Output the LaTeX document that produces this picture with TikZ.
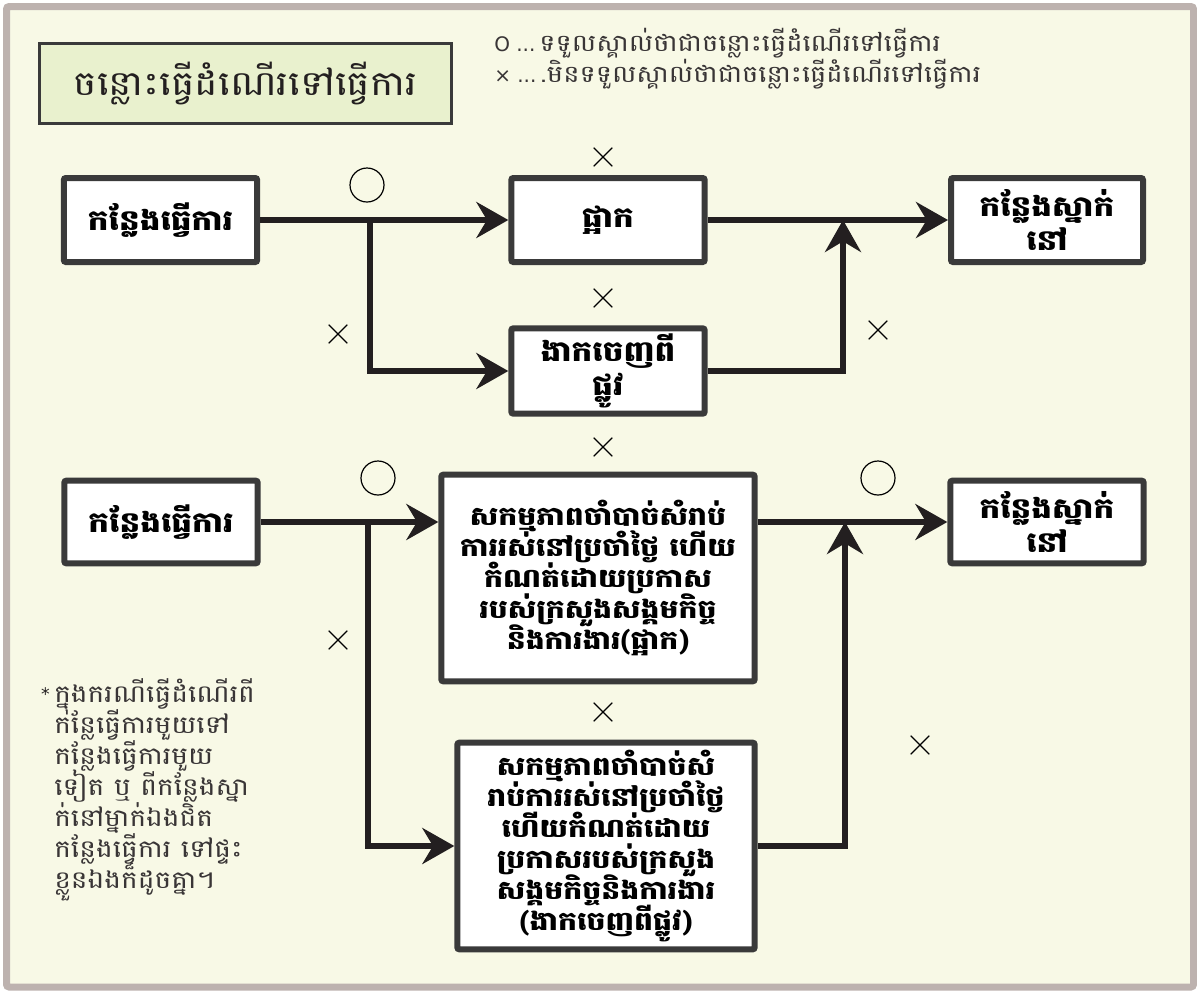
\documentclass[tikz,border=0pt]{standalone}
\usepackage{fontspec}
\usetikzlibrary{arrows.meta,shapes.misc,calc}
\newfontfamily\khmer[Script=Khmer,FakeStretch=1.15]{Battambang}
\newfontfamily\symf{DejaVu Sans}
\definecolor{bg}{HTML}{F8F9E6}
\definecolor{framec}{HTML}{BDB2AF}
\definecolor{titlefill}{HTML}{E9F1CE}
\definecolor{boxline}{HTML}{3A3A3A}
\definecolor{ink}{HTML}{231F20}
\newcommand\tightlines{\lineskiplimit=-100pt\lineskip=0pt\relax}
\begin{document}
\begin{tikzpicture}[x=0.75pt,y=-0.75pt,
  box/.style={draw=boxline, fill=white, line width=4.5pt, rounded corners=1.5pt, align=center, inner sep=0pt,
    font=\khmer\bfseries\fontsize{21.3}{25}\selectfont\tightlines},
  bigbox/.style={box, font=\khmer\bfseries\fontsize{19.5}{23.25}\selectfont\tightlines},
  conn/.style={draw=ink, line width=4.9pt, -{Stealth[length=24pt,width=27pt,inset=8pt]}},
  omark/.style={circle, draw=black, line width=0.9pt, minimum size=25.5pt, inner sep=0pt},
  xmark/.style={cross out, draw=black, line width=0.9pt, minimum size=13pt, inner sep=0pt},
  legend/.style={anchor=west, inner sep=0pt, font=\khmer\fontsize{17.8}{22}\selectfont, text=ink!90},
]
% page and frame
\path[use as bounding box] (0,0) rectangle (1197,990);
\fill[white] (0,0) rectangle (1197,990);
\draw[framec, fill=bg, line width=5.25pt, rounded corners=2pt] (6.5,6.5) rectangle (1193.5,987);

% title
\node[draw=boxline, fill=titlefill, line width=2.4pt, minimum width=309pt, minimum height=60pt, inner sep=0pt,
  font=\khmer\fontsize{25.6}{30}\selectfont, text=ink] (title) at (245.5,83.5) {ចន្លោះធ្វើដំណើរទៅធ្វើការ};

% legend
\node[legend] (leg1) at (494,43) {{\symf\fontsize{15}{18}\selectfont O ...}\,ទទួលស្គាល់ថាជាចន្លោះធ្វើដំណើរទៅធ្វើការ};
\node[legend] (leg2) at (494,74) {{\symf\fontsize{15}{18}\selectfont × ...}\,.មិនទទួលស្គាល់ថាជាចន្លោះធ្វើដំណើរទៅធ្វើការ};

% row 1
\node[box, minimum width=145pt, minimum height=63pt] (a1) at (160.5,220) {កន្លែងធ្វើការ};
\node[box, minimum width=145pt, minimum height=63pt] (b1) at (608,220) {ផ្អាក};
\node[box, minimum width=145pt, minimum height=64pt] (c1) at (608,371) {ងាកចេញពី\\ផ្លូវ};
\node[box, minimum width=144pt, minimum height=63pt] (d1) at (1047,220) {កន្លែងស្នាក់\\នៅ};

\coordinate (j1) at (370,220);
\coordinate (k1) at (843,220);
\draw[conn] (a1.east) -- (b1.west);
\draw[conn] (j1) |- (c1.west);
\draw[conn] (b1.east) -- (d1.west);
\draw[conn] (c1.east) -| (k1);

% row 2
\node[box, minimum width=145pt, minimum height=62pt] (a2) at (161,522) {កន្លែងធ្វើការ};
\node[bigbox, minimum width=235pt, minimum height=155pt] (b2) at (598,578)
  {សកម្មភាពចាំបាច់សំរាប់\\ការរស់នៅប្រចាំថ្ងៃ ហើយ\\កំណត់ដោយប្រកាស\\របស់ក្រសួងសង្គមកិច្ច\\និងការងារ(ផ្អាក)};
\node[box, minimum width=145pt, minimum height=62pt] (d2) at (1047,522) {កន្លែងស្នាក់\\នៅ};
\node[bigbox, minimum width=223pt, minimum height=155pt] (b3) at (606,846)
  {សកម្មភាពចាំបាច់សំ\\រាប់ការរស់នៅប្រចាំថ្ងៃ\\ហើយកំណត់ដោយ\\ប្រកាសរបស់ក្រសួង\\សង្គមកិច្ចនិងការងារ\\(ងាកចេញពីផ្លូវ)};

\coordinate (j2) at (368,522);
\coordinate (k2) at (845,522);
\draw[conn] (a2.east) -- (a2.east -| b2.west);
\draw[conn] (j2) |- (b3.west);
\draw[conn] (b2.east |- d2.west) -- (d2.west);
\draw[conn] (b3.east) -| (k2);

% marks
\node[omark] (o1) at (367,185) {};
\node[omark] (o2) at (378,478) {};
\node[omark] (o3) at (878,478) {};
\node[xmark] (x1) at (603,157) {};
\node[xmark] (x2) at (603,298) {};
\node[xmark] (x3) at (338,334) {};
\node[xmark] (x4) at (878,330) {};
\node[xmark] (x5) at (603,447) {};
\node[xmark] (x6) at (338,640) {};
\node[xmark] (x7) at (603,712) {};
\node[xmark] (x8) at (920,745) {};

% note
\node[anchor=north east, inner sep=0pt, font=\symf\fontsize{13}{15}\selectfont, text=ink] (star) at (50,687) {*};
\node[anchor=north west, inner sep=0pt, align=left, text=ink!90,
  font=\khmer\fontsize{18.3}{23.25}\selectfont\tightlines] (note) at (54,678)
  {ក្នុងករណីធ្វើដំណើរពី\\កន្លែធ្វើការមួយទៅ\\កន្លែងធ្វើការមួយ\\ទៀត ឬ ពីកន្លែងស្នា\\ក់នៅម្នាក់ឯងជិត\\កន្លែងធ្វើការ ទៅផ្ទះ\\ខ្លួនឯងក៏ដូចគ្នា។};
\end{tikzpicture}
\end{document}
